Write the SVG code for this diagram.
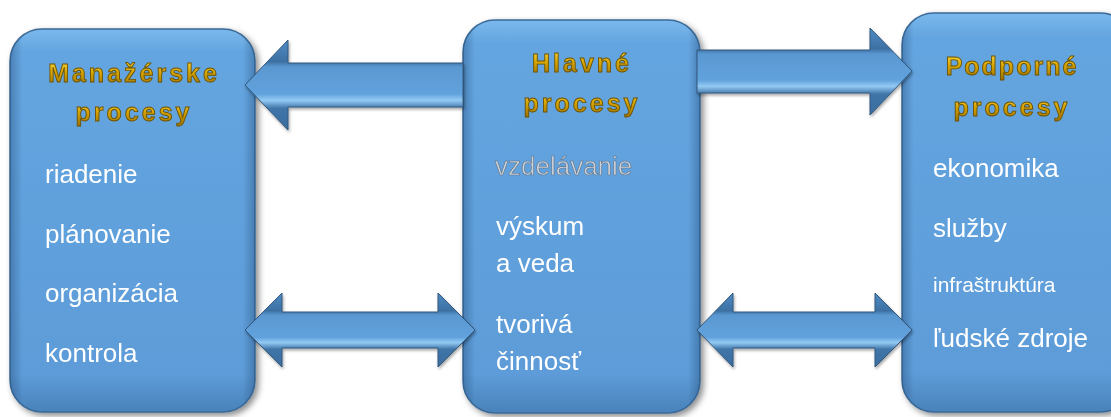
<svg xmlns="http://www.w3.org/2000/svg" width="1111" height="417" viewBox="0 0 1111 417">
<defs>
<linearGradient id="boxG" x1="0" y1="0" x2="0" y2="1">
<stop offset="0" stop-color="#7ab8ec"/>
<stop offset="0.06" stop-color="#64a5e0"/>
<stop offset="0.9" stop-color="#5d9cd8"/>
<stop offset="1" stop-color="#4a82ba"/>
</linearGradient>
<linearGradient id="boxEdge" x1="0" y1="0" x2="1" y2="0">
<stop offset="0" stop-color="#1a3d66" stop-opacity="0.35"/>
<stop offset="0.05" stop-color="#1a3d66" stop-opacity="0"/>
<stop offset="0.95" stop-color="#1a3d66" stop-opacity="0"/>
<stop offset="1" stop-color="#1a3d66" stop-opacity="0.35"/>
</linearGradient>
<linearGradient id="arrG" x1="0" y1="0" x2="0" y2="1">
<stop offset="0" stop-color="#4f8cc6"/>
<stop offset="0.24" stop-color="#3d70a2"/>
<stop offset="0.3" stop-color="#5a98d2"/>
<stop offset="0.6" stop-color="#62a2dc"/>
<stop offset="0.67" stop-color="#92caf4"/>
<stop offset="0.76" stop-color="#3f74a8"/>
<stop offset="1" stop-color="#3c6e9e"/>
</linearGradient>
<linearGradient id="gold" x1="0" y1="0" x2="0" y2="1">
<stop offset="0" stop-color="#ffe04a"/>
<stop offset="0.5" stop-color="#d6a400"/>
<stop offset="1" stop-color="#9a7000"/>
</linearGradient>
<filter id="sh" x="-10%" y="-10%" width="125%" height="125%">
<feDropShadow dx="3" dy="3" stdDeviation="3" flood-color="#000" flood-opacity="0.45"/>
</filter>
<filter id="ash" x="-10%" y="-20%" width="125%" height="150%">
<feDropShadow dx="1" dy="2" stdDeviation="1.5" flood-color="#000" flood-opacity="0.35"/>
</filter>
</defs>
<style>
.box{fill:url(#boxG);stroke:#3b6a98;stroke-width:1.5}
.edge{fill:url(#boxEdge);stroke:none}
.title{font-family:"Liberation Sans",Arial,sans-serif;font-weight:bold;font-size:25px;letter-spacing:3px;fill:url(#gold);stroke:#6e5200;stroke-width:0.9;text-anchor:middle}
.item{font-family:"Liberation Sans",Arial,sans-serif;font-size:26px;fill:#ffffff}
.small{font-size:21px}
.ghost{fill:#cdd2d8;stroke:#5f7288;stroke-width:0.6}
.arr{fill:url(#arrG);stroke:#30597f;stroke-width:1;stroke-linejoin:miter}
</style>
<rect width="1111" height="417" fill="#ffffff"/>
<g id="manazerske" filter="url(#sh)">
<rect class="box" x="10" y="29" width="245" height="383" rx="32"/>
<rect class="edge" x="10" y="29" width="245" height="383" rx="32"/>
<text class="title" x="134" y="82">Manažérske</text>
<text class="title" x="134" y="121">procesy</text>
<text class="item" x="45" y="183">riadenie</text>
<text class="item" x="45" y="243">plánovanie</text>
<text class="item" x="45" y="302">organizácia</text>
<text class="item" x="45" y="362">kontrola</text>
</g>
<g id="hlavne" filter="url(#sh)">
<rect class="box" x="463" y="20" width="237" height="393" rx="32"/>
<rect class="edge" x="463" y="20" width="237" height="393" rx="32"/>
<text class="title" x="582" y="72">Hlavné</text>
<text class="title" x="582" y="112">procesy</text>
<text class="item ghost" x="495" y="175">vzdelávanie</text>
<text class="item" x="496" y="235">výskum</text>
<text class="item" x="496" y="272">a veda</text>
<text class="item" x="496" y="333">tvorivá</text>
<text class="item" x="496" y="370">činnosť</text>
</g>
<g id="podporne" filter="url(#sh)">
<rect class="box" x="902" y="13" width="230" height="399" rx="32"/>
<rect class="edge" x="902" y="13" width="230" height="399" rx="32"/>
<text class="title" x="1012" y="75" style="letter-spacing:2px">Podporné</text>
<text class="title" x="1012" y="116">procesy</text>
<text class="item" x="933" y="177">ekonomika</text>
<text class="item" x="933" y="237">služby</text>
<text class="item small" x="933" y="292">infraštruktúra</text>
<text class="item" x="933" y="347">ľudské zdroje</text>
</g>
<g id="connectors" filter="url(#ash)">
<polygon class="arr" points="245,85 288,40 288,63 463,63 463,107 288,107 288,130"/>
<polygon class="arr" points="697,50 870,50 870,28 912,71 870,115 870,93 697,93"/>
<polygon class="arr" points="245,330 282,293 282,312 438,312 438,293 475,330 438,367 438,348 282,348 282,367"/>
<polygon class="arr" points="697,330 733,293 733,312 875,312 875,293 912,330 875,367 875,348 733,348 733,367"/>
</g>
</svg>
